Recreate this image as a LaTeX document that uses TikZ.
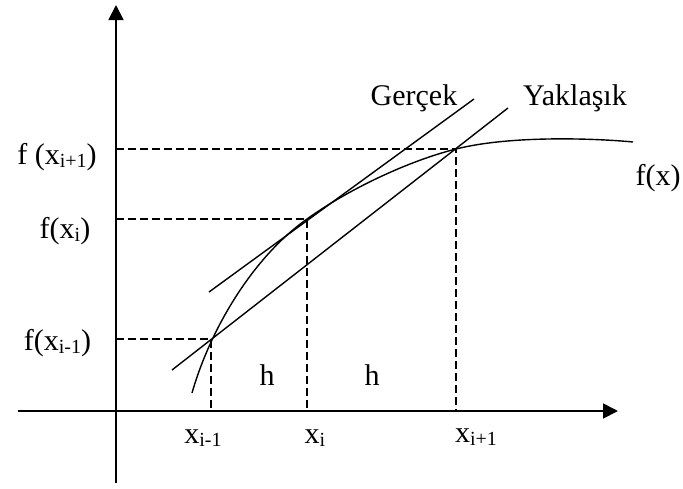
\documentclass[tikz,border=0pt]{standalone}
\usepackage{fontspec}
\setmainfont{Liberation Serif}
\usetikzlibrary{arrows.meta}
\newcommand{\mysub}[1]{\raisebox{-3pt}{\fontsize{20}{20}\selectfont #1}}
\begin{document}
\begin{tikzpicture}[x=1pt,y=-1pt,
  axis/.style={line width=1.8pt,-{Triangle[length=15pt,width=15pt]}},
  curveline/.style={line width=1.4pt},
  guide/.style={line width=1.2pt,dash pattern=on 8pt off 4pt},
  lbl/.style={anchor=base,inner sep=0pt,font=\fontsize{30}{36}\selectfont}]
\useasboundingbox (0,0) rectangle (683,488);
% axes
\coordinate (xs) at (18,411);
\coordinate (xe) at (618,411);
\coordinate (ys) at (116,483);
\coordinate (ye) at (116,5);
\draw[axis] (xs) -- (xe);
\draw[axis] (ys) -- (ye);
% points
\coordinate (P0) at (192,393);
\coordinate (A) at (211,339);
\coordinate (B) at (307,219);
\coordinate (C) at (456,149);
\coordinate (P5) at (633,142);
\coordinate (Ay) at (116,339);
\coordinate (By) at (116,219);
\coordinate (Cy) at (116,149);
\coordinate (Ax) at (211,411);
\coordinate (Bx) at (307,411);
\coordinate (Cx) at (456,411);
% guides
\draw[guide] (Ay) -- (A) -- (Ax);
\draw[guide] (By) -- (B) -- (Bx);
\draw[guide] (Cy) -- (C) -- (Cx);
% curve
\draw[curveline] (P0) .. controls (210,330) and (252,258) .. (B)
  .. controls (347.6,189.8) and (407.5,161.2) .. (C)
  .. controls (514,134.4) and (603,139) .. (P5);
% tangent (Gercek)
\coordinate (T1) at (209,292);
\coordinate (T2) at (474,99);
\draw[curveline] (T1) -- (T2);
% secant (Yaklasik)
\coordinate (S1) at (172,370);
\coordinate (S2) at (508,108);
\draw[curveline] (S1) -- (S2);
% labels
\node[lbl] (lfc) at (57,164) {f (x\mysub{i+1})};
\node[lbl] (lfb) at (65,238) {f(x\mysub{i})};
\node[lbl] (lfa) at (57.5,350) {f(x\mysub{i-1})};
\node[lbl] (lxa) at (203,443) {x\mysub{i-1}};
\node[lbl] (lxb) at (315,443) {x\mysub{i}};
\node[lbl] (lxc) at (476,442) {x\mysub{i+1}};
\node[lbl] (h1) at (267,385) {h};
\node[lbl] (h2) at (372,385) {h};
\node[lbl] (lg) at (414,105) {Gerçek};
\node[lbl] (ly) at (575,105) {Yaklaşık};
\node[lbl] (lf) at (658,185) {f(x)};
\end{tikzpicture}
\end{document}
